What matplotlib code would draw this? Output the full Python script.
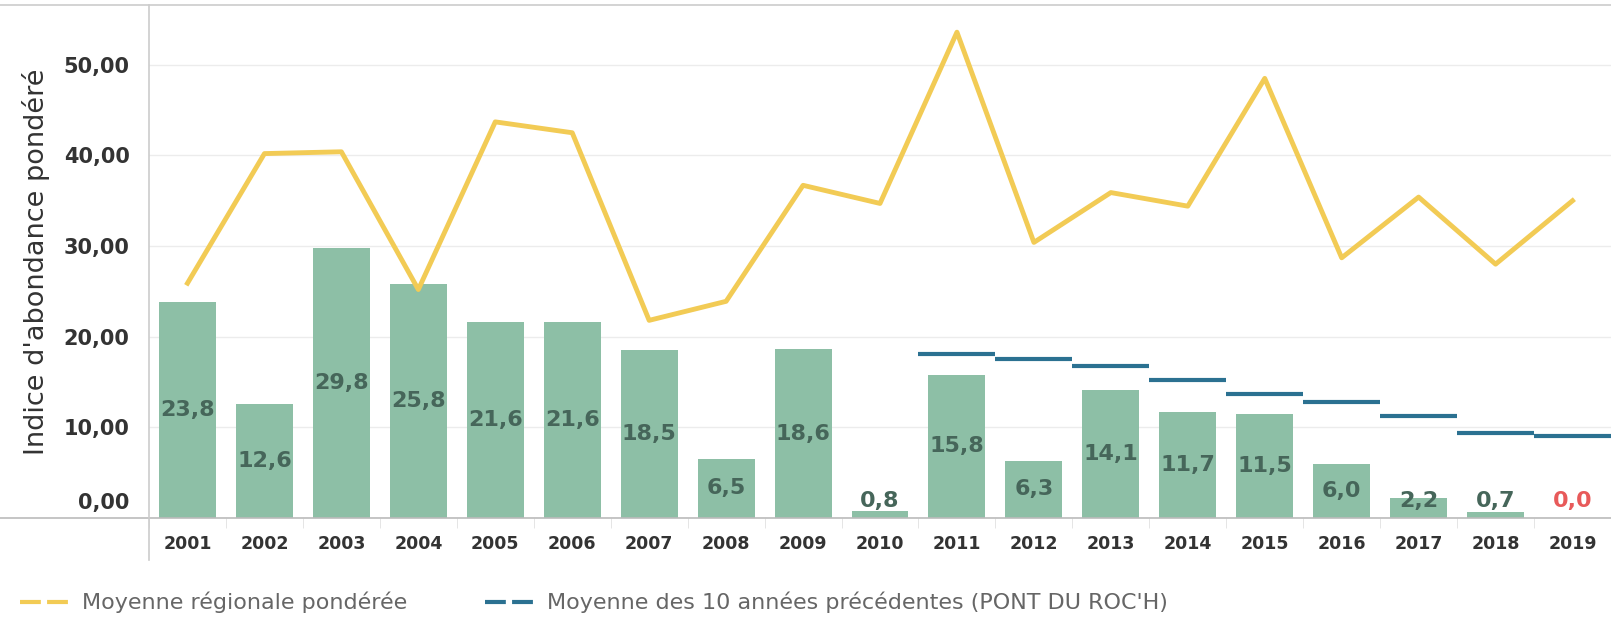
import numpy as np
import matplotlib.pyplot as plt
from matplotlib.lines import Line2D

years = [str(y) for y in range(2001, 2020)]
abondance = [23.8, 12.6, 29.8, 25.8, 21.6, 21.6, 18.5, 6.5, 18.6, 0.8,
             15.8, 6.3, 14.1, 11.7, 11.5, 6.0, 2.2, 0.7, 0.0]
moy_regionale = [25.9, 40.2, 40.4, 25.2, 43.7, 42.5, 21.8, 23.9, 36.7, 34.7,
                 53.6, 30.4, 35.9, 34.4, 48.5, 28.7, 35.4, 28.0, 35.0]
moy_years = years[10:]
moy_10ans = [18.1, 17.5, 16.8, 15.2, 13.7, 12.8, 11.2, 9.4, 9.0]
yticks = [0, 10, 20, 30, 40, 50]

bar_color = '#8dbfa6'
yellow = '#f2cb55'
blue = '#2b7191'
label_color = '#46665a'

fig = plt.figure(figsize=(16.11, 6.21), dpi=100)
ax = fig.add_axes([0.0925, 0.166, 0.9075, 0.826])

x = np.arange(len(years))
ax.bar(x, abondance, width=0.74, color=bar_color, zorder=2)
for xi, v in zip(x, abondance):
    c = '#e85a5a' if v == 0 else label_color
    ax.text(xi, max(v / 2, 1.9), f'{v:.1f}'.replace('.', ','), ha='center', va='center',
            fontsize=16, fontweight='semibold', color=c, zorder=4)

ax.plot(x, moy_regionale, color=yellow, linewidth=3.5, zorder=3)

xm = np.array([years.index(y) for y in moy_years])
ax.hlines(moy_10ans, xm - 0.5, xm + 0.5, color=blue, linewidth=3, zorder=3)

ax.set_xlim(-0.5, len(years) - 0.5)
ax.set_ylim(0, 56.6)
ax.set_yticks(yticks)
labels = [f'{v:.2f}'.replace('.', ',') for v in yticks]
ax.set_yticklabels([''] + labels[1:], fontsize=15, fontweight='bold', color='#333333')
# the 0,00 label sits above the axis line
ax.annotate(labels[0], xy=(0, 0), xycoords=('axes fraction', 'data'),
            xytext=(-14, 11), textcoords='offset points', ha='right', va='center',
            fontsize=15, fontweight='bold', color='#333333')
ax.set_xticks(x)
ax.set_xticklabels(years, fontsize=12.5, fontweight='bold', color='#333333')
ax.set_xticks(np.arange(-0.5, len(years), 1), minor=True)
ax.tick_params(axis='x', which='major', length=0, pad=12)
ax.tick_params(axis='x', which='minor', length=7, color='#e0e0e0')
ax.tick_params(axis='y', length=0, pad=14)
ax.grid(axis='y', color='#ececec', linewidth=1, zorder=0)
ax.set_axisbelow(True)
for s in ax.spines.values():
    s.set_visible(False)
ax.set_ylabel("Indice d'abondance pondéré", fontsize=19.5, color='#333333', labelpad=10)

# frame lines
fig.add_artist(Line2D([0, 1], [1 - 5 / 621, 1 - 5 / 621], color='#cccccc', linewidth=1.2))
fig.add_artist(Line2D([0, 1], [0.166, 0.166], color='#bbbbbb', linewidth=1.2))
fig.add_artist(Line2D([0.0925, 0.0925], [1 - 560 / 621, 1 - 5 / 621], color='#cccccc', linewidth=1.2))

# legend
handles = [Line2D([], [], color=yellow, linewidth=3, linestyle=(0, (5, 1.5))),
           Line2D([], [], color=blue, linewidth=3, linestyle=(0, (5, 1.5)))]
fig.legend(handles, ['Moyenne régionale pondérée', "Moyenne des 10 années précédentes (PONT DU ROC'H)"],
           loc='lower left', bbox_to_anchor=(0.0, -0.02), ncol=2, frameon=False,
           fontsize=16, labelcolor='#666666', handlelength=2.4, handletextpad=0.4,
           columnspacing=3.5)

fig.savefig('out.png', dpi=100)
